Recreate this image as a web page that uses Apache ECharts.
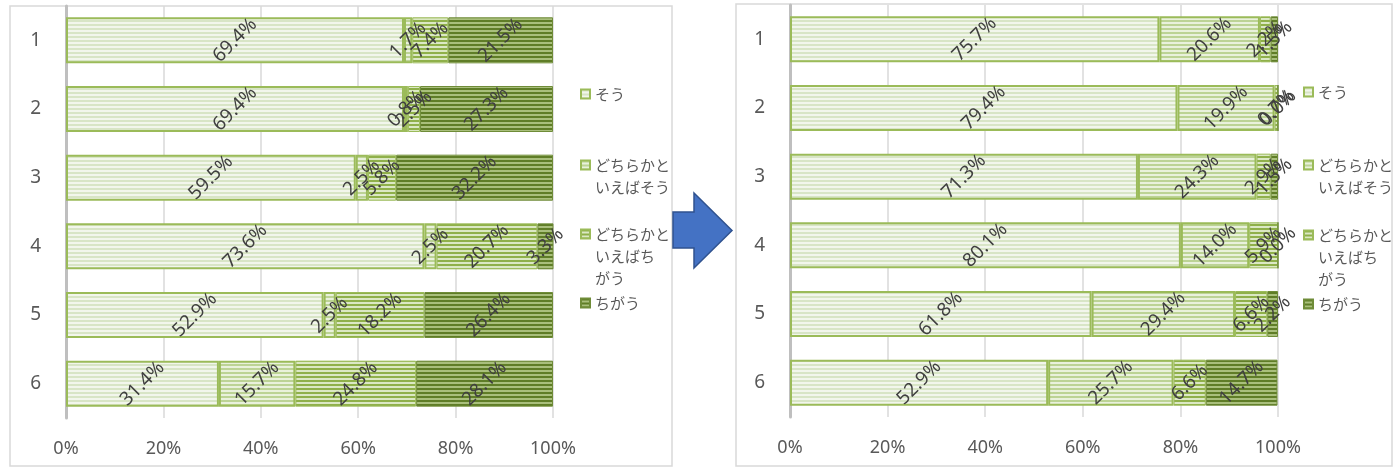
<!DOCTYPE html>
<html>
<head>
<meta charset="utf-8">
<script src="https://cdn.jsdelivr.net/npm/echarts@6/dist/echarts.min.js"></script>
<style>
  html, body { margin: 0; padding: 0; background: #ffffff; }
  #chart { width: 1399px; height: 472px; }
</style>
</head>
<body>
<div id="chart"></div>
<script>
// Row labels (questions 1-6) and answer categories
const categories = ['1', '2', '3', '4', '5', '6'];
const answerNames = ['そう', 'どちらかといえばそう', 'どちらかといえばちがう', 'ちがう'];
const xTickValues = [0, 20, 40, 60, 80, 100];

// Left chart (before), percent per row
const leftSou = [69.4, 69.4, 59.5, 73.6, 52.9, 31.4];
const leftMaybeSou = [1.7, 0.8, 2.5, 2.5, 2.5, 15.7];
const leftMaybeChigau = [7.4, 2.5, 5.8, 20.7, 18.2, 24.8];
const leftChigau = [21.5, 27.3, 32.2, 3.3, 26.4, 28.1];

// Right chart (after), percent per row
const rightSou = [75.7, 79.4, 71.3, 80.1, 61.8, 52.9];
const rightMaybeSou = [20.6, 19.9, 24.3, 14.0, 29.4, 25.7];
const rightMaybeChigau = [2.2, 0.7, 2.9, 5.9, 6.6, 6.6];
const rightChigau = [1.5, 0.0, 1.5, 0.0, 2.2, 14.7];

// Horizontal-stripe fill used for each answer category
function stripes(bg, fg, period, lineW) {
  const c = document.createElement('canvas');
  c.width = 8; c.height = period;
  const g = c.getContext('2d');
  g.fillStyle = bg; g.fillRect(0, 0, 8, period);
  g.fillStyle = fg; g.fillRect(0, 0, 8, lineW);
  return { image: c, repeat: 'repeat' };
}
const fills = [
  { color: stripes('#f2f6ec', '#d8e5c6', 4, 2), borderColor: '#9bbb59', borderWidth: 2 },
  { color: stripes('#e9f1dc', '#bcd395', 4, 2), borderColor: '#9bbb59', borderWidth: 2 },
  { color: stripes('#dbe8c4', '#8fb04a', 4, 2), borderColor: '#9bbb59', borderWidth: 1 },
  { color: stripes('#a9bf7c', '#5f7d27', 4, 2), borderColor: '#6f8c38', borderWidth: 1 }
];

const legendText = {
  'そう': 'そう',
  'どちらかといえばそう': '\nどちらかと\nいえばそう',
  'どちらかといえばちがう': '\n\nどちらかと\nいえばち\nがう',
  'ちがう': 'ちがう'
};

const numFont = '"Noto Sans", sans-serif';
const jpFont = '"Noto Sans CJK JP", sans-serif';

function makeSeries(values, idx, axisIdx) {
  return {
    name: answerNames[idx],
    type: 'bar',
    stack: 'total' + axisIdx,
    xAxisIndex: axisIdx,
    yAxisIndex: axisIdx,
    barWidth: 46,
    data: values,
    itemStyle: fills[idx],
    label: {
      show: true,
      position: 'inside',
      rotate: 45,
      color: '#404040',
      fontFamily: numFont,
      fontSize: 19,
      formatter: p => p.value.toFixed(1) + '%'
    },
    emphasis: { disabled: true }
  };
}

function makeXAxis(gridIndex) {
  return {
    type: 'value', gridIndex, min: 0, max: 100, interval: 20,
    axisLine: { show: false }, axisTick: { show: false },
    splitLine: { show: true, lineStyle: { color: '#d9d9d9', width: 1.5 } },
    axisLabel: {
      margin: 22, color: '#595959', fontFamily: numFont, fontSize: 18,
      formatter: v => xTickValues.includes(v) ? v + '%' : ''
    }
  };
}
function makeYAxis(gridIndex) {
  return {
    type: 'category', gridIndex, data: categories, inverse: true,
    axisLine: { show: true, lineStyle: { color: '#bfbfbf', width: 3 } },
    axisTick: { show: false },
    axisLabel: { margin: 25, color: '#595959', fontFamily: numFont, fontSize: 19 }
  };
}

// One legend block per entry so each marker sits beside the first text line
function makeLegends(left, tops) {
  return answerNames.map((n, i) => ({
    data: [n], orient: 'vertical', left: left, top: tops[i], padding: 0,
    icon: 'rect', itemWidth: 9, itemHeight: 9, itemGap: 0,
    textStyle: { color: '#595959', fontFamily: jpFont, fontSize: 15, lineHeight: 22 },
    formatter: name => legendText[name],
    selectedMode: false
  }));
}

const series = [];
[leftSou, leftMaybeSou, leftMaybeChigau, leftChigau].forEach((v, i) => series.push(makeSeries(v, i, 0)));
[rightSou, rightMaybeSou, rightMaybeChigau, rightChigau].forEach((v, i) => series.push(makeSeries(v, i, 1)));

const chart = echarts.init(document.getElementById('chart'), null, { renderer: 'canvas' });
chart.setOption({
  animation: false,
  backgroundColor: '#ffffff',
  grid: [
    { left: 66, top: 6, width: 487, height: 412 },
    { left: 790, top: 5, width: 488, height: 412 }
  ],
  xAxis: [makeXAxis(0), makeXAxis(1)],
  yAxis: [makeYAxis(0), makeYAxis(1)],
  legend: makeLegends(580, [83, 132, 179, 292]).concat(makeLegends(1303, [81, 132, 180, 293])),
  series: series,
  graphic: [
    { type: 'rect', shape: { x: 10, y: 6, width: 662, height: 460 }, style: { fill: 'none', stroke: '#d9d9d9', lineWidth: 1.5 }, z: 0, silent: true },
    { type: 'rect', shape: { x: 736, y: 4, width: 656, height: 462 }, style: { fill: 'none', stroke: '#d9d9d9', lineWidth: 1.5 }, z: 0, silent: true },
    {
      type: 'polygon', z: 10, silent: true,
      shape: { points: [[673, 212], [694, 212], [694, 193], [732, 230.5], [694, 268], [694, 248], [673, 248]] },
      style: { fill: '#4472c4', stroke: '#2f528f', lineWidth: 1.5 }
    }
  ]
});
</script>
</body>
</html>
